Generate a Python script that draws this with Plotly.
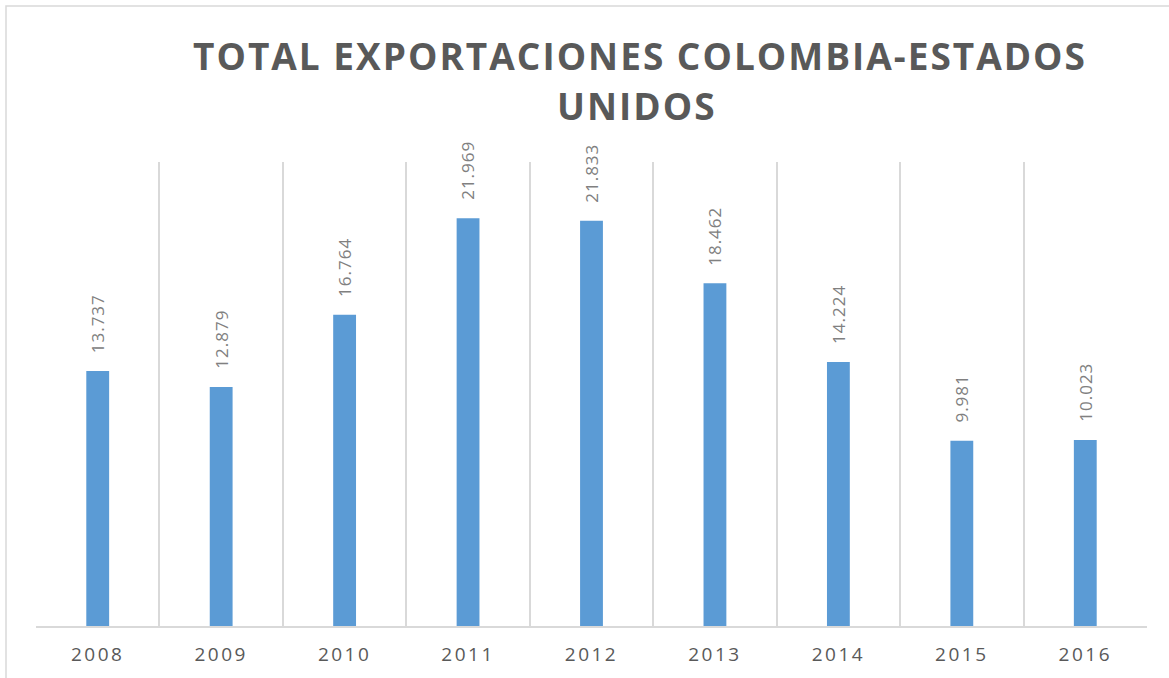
import plotly.graph_objects as go

years = ["2008", "2009", "2010", "2011", "2012", "2013", "2014", "2015", "2016"]
values = [13.737, 12.879, 16.764, 21.969, 21.833, 18.462, 14.224, 9.981, 10.023]
labels = ["13.737", "12.879", "16.764", "21.969", "21.833", "18.462", "14.224", "9.981", "10.023"]
title_lines = ["TOTAL EXPORTACIONES COLOMBIA-ESTADOS", "UNIDOS"]

fig = go.Figure()
fig.add_trace(go.Bar(x=years, y=values, marker=dict(color="#5B9BD5", line=dict(width=0)),
                     hoverinfo="x+y"))

for i, (v, lab) in enumerate(zip(values, labels)):
    fig.add_annotation(x=i, y=v, text='<span style="letter-spacing:1px">' + lab + '</span>',
                       showarrow=False, textangle=-90, yanchor="bottom", yshift=16,
                       font=dict(family="Open Sans", size=17, color="#808080"))

# title lines as two annotations (paper coords above plot area)
title_pos = [(0.5437, 1.2306), (0.541, 1.1218)]
for line, (tx, ty) in zip(title_lines, title_pos):
    fig.add_annotation(xref="paper", yref="paper", x=tx, y=ty, xanchor="center", yanchor="middle",
                       text='<span style="letter-spacing:2px">' + line + '</span>', showarrow=False,
                       font=dict(family="Open Sans", size=37, color="#595959", weight="bold"))

tick_text = ['<span style="letter-spacing:2.5px">' + y + '</span>' for y in years]

fig.update_layout(
    width=1169, height=678,
    margin=dict(l=36, r=22, t=162, b=52),
    paper_bgcolor="white", plot_bgcolor="white",
    bargap=0.815,
    showlegend=False,
    xaxis=dict(type="category", tickson="boundaries", showgrid=True, gridcolor="#d9d9d9", gridwidth=1.5,
               showline=True, linecolor="#d9d9d9", linewidth=1.5, ticks="",
               tickvals=years, ticktext=tick_text,
               tickfont=dict(family="Open Sans", size=19, color="#595959"),
               ticklabelstandoff=10, tickangle=0, range=[-0.5, 8.5]),
    yaxis=dict(range=[0, 25], visible=False, showgrid=False, zeroline=False),
    shapes=[dict(type="rect", xref="paper", yref="paper", x0=-0.027, x1=1.1, y0=-0.3, y1=1.336,
                 line=dict(color="#d9d9d9", width=1.5), fillcolor="rgba(0,0,0,0)", layer="below")],
)

fig.write_html("out.html", config={"displayModeBar": False},
               post_script="document.body.style.margin='0';document.body.style.padding='0';")
